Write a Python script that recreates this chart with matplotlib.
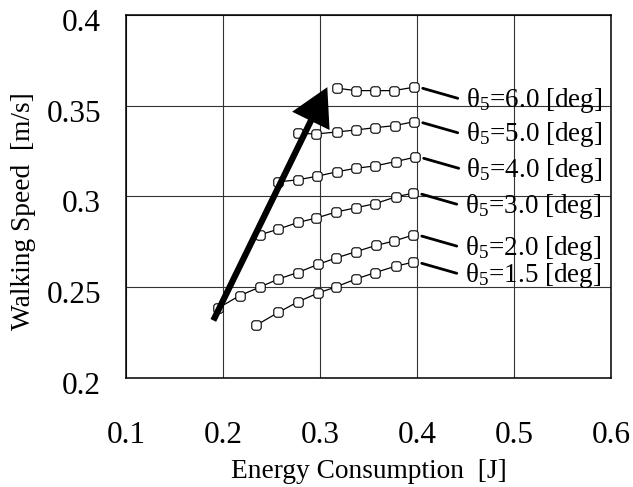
import matplotlib
matplotlib.use('Agg')
import matplotlib.pyplot as plt
from matplotlib.patches import FancyArrowPatch, BoxStyle
from matplotlib.transforms import offset_copy, ScaledTranslation

plt.rcParams['font.family'] = ['Liberation Serif', 'DejaVu Serif']
plt.rcParams['mathtext.fontset'] = 'custom'
plt.rcParams['mathtext.rm'] = 'Liberation Serif'
plt.rcParams['mathtext.it'] = 'Liberation Serif:italic'

# Data (energy [J], speed [m/s]) per theta5 setting
labels = ['6.0', '5.0', '4.0', '3.0', '2.0', '1.5']
x_60 = [0.318, 0.337, 0.357, 0.376, 0.397]
y_60 = [0.3596, 0.3583, 0.3583, 0.3583, 0.3602]
x_50 = [0.277, 0.296, 0.317, 0.337, 0.357, 0.377, 0.397]
y_50 = [0.3348, 0.3344, 0.3355, 0.3366, 0.3379, 0.3390, 0.3412]
x_40 = [0.257, 0.277, 0.297, 0.318, 0.337, 0.357, 0.378, 0.398]
y_40 = [0.3080, 0.3091, 0.3111, 0.3136, 0.3155, 0.3168, 0.3192, 0.3216]
x_30 = [0.238, 0.257, 0.277, 0.296, 0.316, 0.337, 0.357, 0.378, 0.396]
y_30 = [0.2788, 0.2819, 0.2856, 0.2880, 0.2913, 0.2937, 0.2960, 0.2997, 0.3018]
x_20 = [0.195, 0.217, 0.238, 0.257, 0.277, 0.298, 0.316, 0.337, 0.358, 0.376, 0.396]
y_20 = [0.2384, 0.2452, 0.2500, 0.2544, 0.2580, 0.2625, 0.2659, 0.2695, 0.2730, 0.2753, 0.2787]
x_15 = [0.234, 0.257, 0.277, 0.298, 0.316, 0.337, 0.357, 0.378, 0.396]
y_15 = [0.2289, 0.2360, 0.2418, 0.2467, 0.2500, 0.2544, 0.2580, 0.2615, 0.2637]

xs = [x_60, x_50, x_40, x_30, x_20, x_15]
ys = [y_60, y_50, y_40, y_30, y_20, y_15]

# big trend arrow (tail -> tip)
arrow_tail = (0.190, 0.2316)
arrow_tip = (0.3075, 0.3602)

# rounded square marker like the original
round_sq = BoxStyle.Round(pad=0, rounding_size=0.3)(-0.5, -0.5, 1, 1, 1)

fig = plt.figure(figsize=(6.33, 4.87), dpi=100)
ax = fig.add_axes([0.1991, 0.2244, 0.7662, 0.7448])

for x, y in zip(xs, ys):
    ax.plot(x, y, color='black', lw=0.9, marker=round_sq, markersize=6.8,
            markerfacecolor='white', markeredgecolor='black', markeredgewidth=0.8,
            zorder=3)

# leader lines + labels
for lab, x, y in zip(labels, xs, ys):
    xl, yl = x[-1], y[-1]
    t_start = offset_copy(ax.transData, fig=fig, x=6.2, y=-0.8, units='points')
    t_end = offset_copy(ax.transData, fig=fig, x=31.4, y=-8.0, units='points')
    ax.annotate('', xy=(xl, yl), xycoords=t_end, xytext=(xl, yl), textcoords=t_start,
                arrowprops=dict(arrowstyle='-', lw=2.0, color='black',
                                shrinkA=0, shrinkB=0))
    ax.annotate('θ$_{\\mathit{5}}$=' + lab + ' [deg]', xy=(xl, yl),
                xytext=(37.0, -9.6), textcoords='offset points',
                ha='left', va='center', fontsize=19.5, zorder=4)

arr = FancyArrowPatch(arrow_tail, arrow_tip,
                      arrowstyle='simple,head_length=2.7,head_width=3.0,tail_width=0.45',
                      mutation_scale=10, color='black', lw=0, shrinkA=0, shrinkB=0,
                      zorder=5)
ax.add_patch(arr)

ax.set_xlim(0.1, 0.6)
ax.set_ylim(0.2, 0.4)
ax.set_xticks([0.1, 0.2, 0.3, 0.4, 0.5, 0.6])
ax.set_xticklabels(['0.1', '0.2', '0.3', '0.4', '0.5', '0.6'])
ax.set_yticks([0.2, 0.25, 0.3, 0.35, 0.4])
ax.set_yticklabels(['0.2', '0.25', '0.3', '0.35', '0.4'])
ax.tick_params(axis='both', length=0, labelsize=22.5)
ax.tick_params(axis='x', pad=31)
ax.tick_params(axis='y', pad=18)
for t in ax.yaxis.get_major_ticks():
    t.label1.set_transform(t.label1.get_transform() +
                           ScaledTranslation(0, -5 / 100, fig.dpi_scale_trans))

ax.grid(True, color='0.2', lw=0.8)
ax.set_axisbelow(True)
for s in ax.spines.values():
    s.set_linewidth(1.1)
    s.set_color('black')

ax.set_xlabel('Energy Consumption  [J]', fontsize=19.7)
ax.xaxis.set_label_coords(0.5, -0.225)
ax.set_ylabel('Walking Speed  [m/s]', fontsize=19.7)
ax.yaxis.set_label_coords(-0.185, 0.46)

fig.savefig('out.png', dpi=100)
